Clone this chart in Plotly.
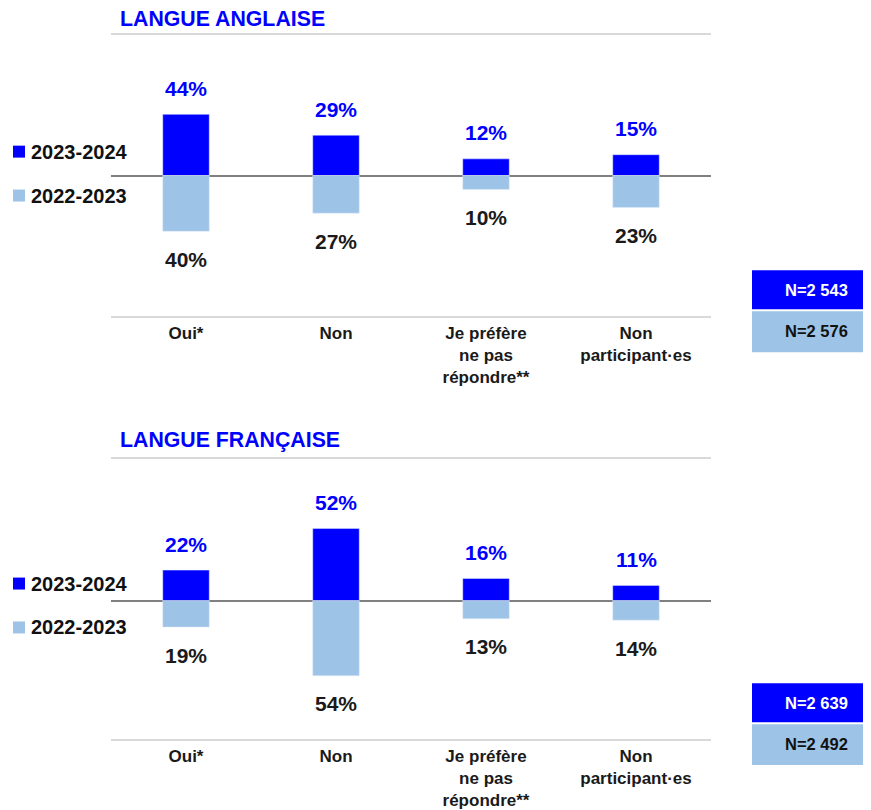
import plotly.graph_objects as go

# data
categories = ["Oui*", "Non", "Je préfère<br>ne pas<br>répondre**", "Non<br>participant·es"]
series_names = ["2023-2024", "2022-2023"]

anglais_2024 = [44, 29, 12, 15]
anglais_2023 = [40, 27, 10, 23]
francais_2024 = [22, 52, 16, 11]
francais_2023 = [19, 54, 13, 14]

n_anglais = ["N=2 543", "N=2 576"]
n_francais = ["N=2 639", "N=2 492"]

panel_titles = ["LANGUE ANGLAISE", "LANGUE FRANÇAISE"]

# style
BLUE = "#0000FF"
LIGHT = "#9DC3E6"
OFF = 8  # page body margin
W, H = 871 - OFF, 810 - OFF
FONT = "Liberation Sans, Arial, sans-serif"


def px(x):
    return (x - OFF) / W


def py(y):
    return 1 - (y - OFF) / H


fig = go.Figure()

panels = [
    (anglais_2024, anglais_2023, "x", "y"),
    (francais_2024, francais_2023, "x2", "y2"),
]

annotations = []
shapes = []

for up, down, xa, ya in panels:
    fig.add_trace(go.Bar(x=categories, y=up, marker_color=BLUE, width=0.31,
                         name=series_names[0], xaxis=xa, yaxis=ya, showlegend=False))
    fig.add_trace(go.Bar(x=categories, y=[-v for v in down], marker_color=LIGHT, width=0.31,
                         name=series_names[1], xaxis=xa, yaxis=ya, showlegend=False))
    for c, v in zip(categories, up):
        annotations.append(dict(x=c, y=v, xref=xa, yref=ya, text=f"<b>{v}%</b>", showarrow=False,
                                xanchor="center", yanchor="middle", yshift=26,
                                font=dict(family=FONT, size=21, color=BLUE)))
    for c, v in zip(categories, down):
        annotations.append(dict(x=c, y=-v, xref=xa, yref=ya, text=f"<b>{v}%</b>", showarrow=False,
                                xanchor="center", yanchor="middle", yshift=-28,
                                font=dict(family=FONT, size=21, color="#1a1a1a")))

# titles, legends, N boxes (pixel positions of the layout)
title_y = [19, 441]
legend_y = [(152, 196), (585, 629)]
nbox_y = [(271, 311, 353), (685, 725, 767)]
n_texts = [n_anglais, n_francais]

for i in range(2):
    annotations.append(dict(x=px(118), y=py(title_y[i]), xref="paper", yref="paper",
                            text=f"<b>{panel_titles[i]}</b>", showarrow=False,
                            xanchor="left", yanchor="middle",
                            font=dict(family=FONT, size=21.3, color=BLUE)))
    for j, color in enumerate([BLUE, LIGHT]):
        yc = legend_y[i][j]
        shapes.append(dict(type="rect", xref="paper", yref="paper",
                           x0=px(13), x1=px(25), y0=py(yc - 6), y1=py(yc + 6),
                           fillcolor=color, line_width=0))
        annotations.append(dict(x=px(29), y=py(yc), xref="paper", yref="paper",
                                text=f"<b>{series_names[j]}</b>", showarrow=False,
                                xanchor="left", yanchor="middle",
                                font=dict(family=FONT, size=20, color="#111111")))
    t, m, b = nbox_y[i]
    shapes.append(dict(type="rect", xref="paper", yref="paper",
                       x0=px(752), x1=px(880), y0=py(m - 1), y1=py(t),
                       fillcolor=BLUE, line_width=0))
    shapes.append(dict(type="rect", xref="paper", yref="paper",
                       x0=px(752), x1=px(880), y0=py(b), y1=py(m + 1),
                       fillcolor=LIGHT, line_width=0))
    annotations.append(dict(x=px(816), y=py((t + m) / 2), xref="paper", yref="paper",
                            text=f"<b>{n_texts[i][0]}</b>", showarrow=False,
                            xanchor="center", yanchor="middle",
                            font=dict(family=FONT, size=16.5, color="white")))
    annotations.append(dict(x=px(816), y=py((m + b) / 2), xref="paper", yref="paper",
                            text=f"<b>{n_texts[i][1]}</b>", showarrow=False,
                            xanchor="center", yanchor="middle",
                            font=dict(family=FONT, size=16.5, color="#111111")))

xaxis_style = dict(domain=[px(111), px(711)], range=[-0.5, 3.5], type="category",
                   showline=True, mirror=True, linecolor="#D9D9D9", linewidth=2,
                   showgrid=False, ticks="", fixedrange=True,
                   tickfont=dict(family=FONT, size=17, color="#1a1a1a"))
yaxis_style = dict(showgrid=False, showticklabels=False,
                   zeroline=True, zerolinecolor="#808080", zerolinewidth=2,
                   showline=False, fixedrange=True)

fig.update_layout(
    width=W, height=H,
    margin=dict(l=0, r=0, t=0, b=0),
    paper_bgcolor="white", plot_bgcolor="white",
    barmode="relative",
    xaxis=dict(xaxis_style, anchor="y"),
    xaxis2=dict(xaxis_style, anchor="y2"),
    yaxis=dict(yaxis_style, range=[-101, 101], domain=[py(317), py(35)], anchor="x"),
    yaxis2=dict(yaxis_style, range=[-99.6, 102], domain=[py(741), py(460)], anchor="x2"),
    annotations=annotations,
    shapes=shapes,
    font=dict(family=FONT),
)

# tick label formatting: bold
fig.update_xaxes(ticktext=[f"<b>{c}</b>" for c in categories], tickvals=categories)

fig.write_html("out.html")
